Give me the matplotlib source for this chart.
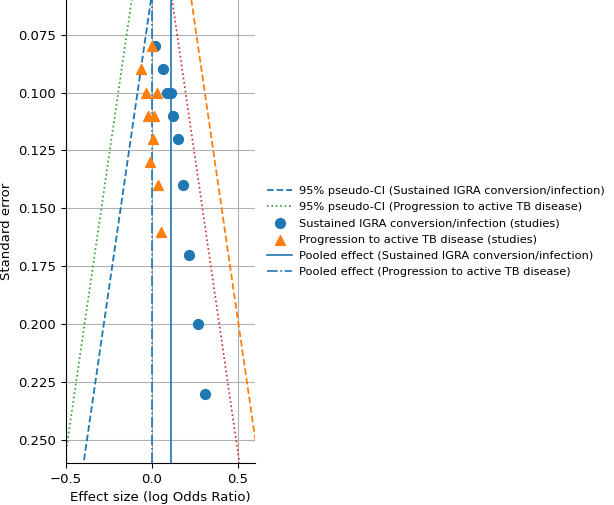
import matplotlib
matplotlib.use("Agg")
import matplotlib.pyplot as plt
import numpy as np

# study estimates (log OR) and standard errors
igra_es = [0.019, 0.062, 0.087, 0.110, 0.125, 0.149, 0.180, 0.218, 0.269, 0.311]
igra_se = [0.080, 0.090, 0.100, 0.100, 0.110, 0.120, 0.140, 0.170, 0.200, 0.230]

tb_es = [0.000, -0.062, -0.035, 0.029, -0.023, 0.015, 0.008, -0.012, 0.038, 0.050]
tb_se = [0.080, 0.090, 0.100, 0.100, 0.110, 0.110, 0.120, 0.130, 0.140, 0.160]

pooled_igra = 0.112
pooled_tb = 0.0

se_grid = np.linspace(0, 0.3, 50)

fig = plt.figure(figsize=(6.14, 5.05), dpi=100)
ax = fig.add_axes([66 / 614, 42 / 505, 189 / 614, 463 / 505])

# pseudo confidence funnels
ax.plot(pooled_igra - 1.96 * se_grid, se_grid, '--', color='C0', lw=1.3,
        label='95% pseudo-CI (Sustained IGRA conversion/infection)')
ax.plot(pooled_igra + 1.96 * se_grid, se_grid, '--', color='C1', lw=1.3)
ax.plot(pooled_tb - 1.96 * se_grid, se_grid, ':', color='C2', lw=1.2,
        label='95% pseudo-CI (Progression to active TB disease)')
ax.plot(pooled_tb + 1.96 * se_grid, se_grid, ':', color='C3', lw=1.2)

ax.scatter(igra_es, igra_se, s=50, color='C0', marker='o', zorder=3,
           label='Sustained IGRA conversion/infection (studies)')
ax.scatter(tb_es, tb_se, s=50, color='C1', marker='^', zorder=3,
           label='Progression to active TB disease (studies)')

ax.axvline(pooled_igra, color='C0', lw=1.2, linestyle='-',
           label='Pooled effect (Sustained IGRA conversion/infection)')
ax.axvline(pooled_tb, color='C0', lw=1.2, linestyle='-.',
           label='Pooled effect (Progression to active TB disease)')

ax.set_xlim(-0.5, 0.6)
ax.set_ylim(0.26, 0.06)
ax.set_yticks([0.075, 0.100, 0.125, 0.150, 0.175, 0.200, 0.225, 0.250])
ax.set_xticks([-0.5, 0.0, 0.5])
ax.grid(True, color='#b0b0b0', lw=0.8)
ax.set_axisbelow(True)
ax.spines['top'].set_visible(False)
ax.spines['right'].set_visible(False)
ax.tick_params(labelsize=9.5)
ax.set_xlabel('Effect size (log Odds Ratio)', fontsize=9.5)
ax.set_ylabel('Standard error', fontsize=9.5)

ax.legend(loc='center left', bbox_to_anchor=(1.01, 0.5), frameon=False,
          fontsize=8.2, handlelength=2.2, handletextpad=0.6, labelspacing=0.55)

fig.savefig('out.png', dpi=100)
